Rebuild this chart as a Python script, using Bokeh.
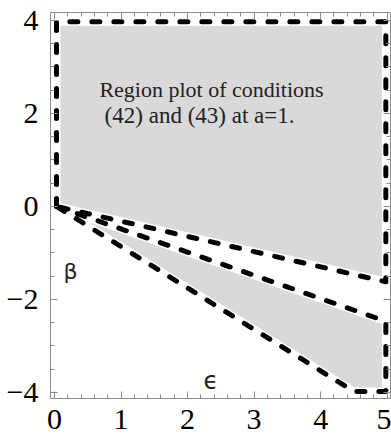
from bokeh.plotting import figure
from bokeh.models import Range1d, LinearAxis, FixedTicker, Label, CustomJSTickFormatter
from bokeh.embed import file_html
from bokeh.resources import INLINE

# Boundary of the upper admissible region (epsilon, beta)
eps_upper = [0.03, 0.03, 4.98, 4.98, 0.03]
beta_upper = [0.0, 3.97, 3.97, -1.62, 0.0]

# Boundary of the lower admissible region (epsilon, beta)
eps_lower = [0.03, 4.98, 4.98, 4.5, 0.03]
beta_lower = [0.0, -2.47, -3.98, -3.98, 0.0]

x_ticks = [0, 1, 2, 3, 4, 5]
y_ticks = [-4, -2, 0, 2, 4]

title_lines = ["Region plot of conditions", "(42) and (43) at a=1."]

SERIF = "Liberation Serif"
AX = "#8c8c8c"
x_minor = [i * 0.2 for i in range(0, 26)]
y_minor = [-4 + i * 0.5 for i in range(0, 17)]

p = figure(width=391, height=442, x_range=Range1d(-0.06, 5.05), y_range=Range1d(-4.13, 4.17),
           output_backend="svg", toolbar_location=None, x_axis_location=None, y_axis_location=None,
           min_border_left=50, min_border_right=1, min_border_top=12, min_border_bottom=44)
p.grid.visible = False
p.outline_line_color = None
p.background_fill_color = "white"
p.border_fill_color = "white"

FILL = "#d9d9d9"
for xs, ys in ((eps_upper, beta_upper), (eps_lower, beta_lower)):
    p.patch(xs, ys, fill_color=FILL, line_color=None)
for xs, ys in ((eps_upper, beta_upper), (eps_lower, beta_lower)):
    p.line(xs, ys, line_color="white", line_width=8, line_join="round")
for xs, ys in ((eps_upper, beta_upper), (eps_lower, beta_lower)):
    p.line(xs, ys, line_color="black", line_width=5, line_dash="8 14",
           line_cap="round", line_join="round")


def make_axis(ticks, minor, labels):
    ax = LinearAxis(
        ticker=FixedTicker(ticks=ticks, minor_ticks=minor),
        axis_line_color=AX, major_tick_line_color=AX, minor_tick_line_color=AX,
        major_tick_in=7, major_tick_out=0, minor_tick_in=4, minor_tick_out=0,
    )
    if labels:
        ax.major_label_text_font = SERIF
        ax.major_label_text_font_size = "30px"
        ax.major_label_text_color = "black"
    else:
        ax.formatter = CustomJSTickFormatter(code="return ''")
        ax.major_label_text_font_size = "0px"
        ax.major_label_standoff = 0
    return ax

bottom = make_axis(x_ticks, x_minor, True)
bottom.major_label_standoff = 11
left = make_axis(y_ticks, y_minor, True)
left.major_label_standoff = 12
left.formatter = CustomJSTickFormatter(code="return tick < 0 ? '\u2212' + Math.abs(tick) : '' + tick")
top = make_axis(x_ticks, x_minor, False)
right = make_axis(y_ticks, y_minor, False)
p.add_layout(bottom, "below")
p.add_layout(left, "left")
p.add_layout(top, "above")
p.add_layout(right, "right")

p.add_layout(Label(x=2.36, y=2.52, text=title_lines[0], text_font=SERIF,
                   text_font_size="22px", text_align="center", text_baseline="alphabetic",
                   text_color="#222222"))
p.add_layout(Label(x=2.18, y=1.96, text=title_lines[1], text_font=SERIF,
                   text_font_size="23px", text_align="center", text_baseline="alphabetic",
                   text_color="#222222"))
p.add_layout(Label(x=0.24, y=-1.4, text="\u03b2", text_font="DejaVu Sans",
                   text_font_size="22px", text_align="center", text_baseline="middle",
                   text_color="#222222"))
p.add_layout(Label(x=2.35, y=-3.76, text="\u03f5", text_font="DejaVu Sans",
                   text_font_size="24px", text_align="center", text_baseline="middle",
                   text_color="#222222"))

open("out.html", "w").write(file_html(p, INLINE))
